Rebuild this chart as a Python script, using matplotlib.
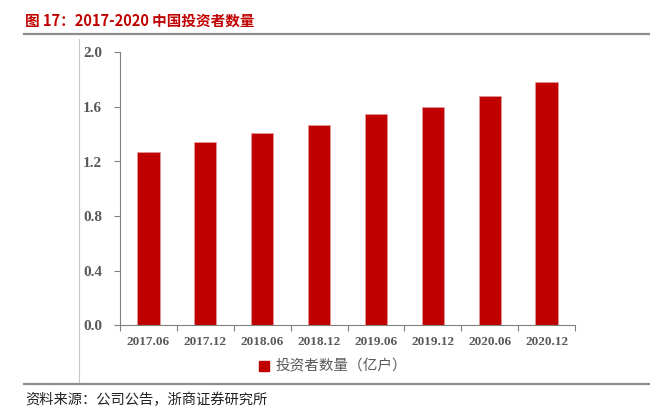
import matplotlib
matplotlib.use('Agg')
import matplotlib.pyplot as plt
from matplotlib.patches import Patch
from matplotlib.lines import Line2D
import numpy as np

plt.rcParams['font.family'] = ['Noto Sans CJK SC', 'DejaVu Sans']

# 数据
periods = ['2017.06', '2017.12', '2018.06', '2018.12',
           '2019.06', '2019.12', '2020.06', '2020.12']
investors = [1.27, 1.34, 1.41, 1.47, 1.55, 1.60, 1.68, 1.78]
y_ticks = [0.0, 0.4, 0.8, 1.2, 1.6, 2.0]

title = '图 17：2017-2020 中国投资者数量'
legend_label = '投资者数量（亿户）'
source = '资料来源：公司公告，浙商证券研究所'

red = '#C00000'
grey = '#595959'
W, H = 650, 411

fig = plt.figure(figsize=(6.5, 4.11), dpi=100)
ax = fig.add_axes([120 / W, 1 - 325.3 / H, 455 / W, 273 / H])

x = np.arange(len(periods))
ax.bar(x, investors, width=0.39, color=red, edgecolor='#E8A0A0', linewidth=0.4)

ax.set_xlim(-0.5, len(periods) - 0.5)
ax.set_ylim(0, 2.0)
ax.set_yticks(y_ticks)
ax.set_yticklabels(['%.1f' % v for v in y_ticks])

# 刻度在类别边界，标签在中间
ax.set_xticks(np.arange(-0.5, len(periods), 1.0))
ax.set_xticklabels([])
ax.set_xticks(x, minor=True)
ax.set_xticklabels(periods, minor=True)
ax.tick_params(axis='x', which='minor', length=0, pad=8)
ax.tick_params(axis='x', which='major', length=4, direction='out', color='#808080')
ax.tick_params(axis='y', length=4, direction='out', color='#808080', pad=9)

for lab in ax.get_xticklabels(minor=True):
    lab.set_family(['Liberation Serif', 'DejaVu Serif'])
    lab.set_fontweight('bold')
    lab.set_fontsize(9.5)
    lab.set_color(grey)
for lab in ax.get_yticklabels():
    lab.set_family(['Liberation Serif', 'DejaVu Serif'])
    lab.set_fontweight('bold')
    lab.set_fontsize(11)
    lab.set_color(grey)

for s in ['top', 'right']:
    ax.spines[s].set_visible(False)
for s in ['left', 'bottom']:
    ax.spines[s].set_color('#808080')
    ax.spines[s].set_linewidth(0.8)

# 图例
handle = Patch(facecolor=red, edgecolor=red)
fig.legend([handle], [legend_label], loc='center',
           bbox_to_anchor=(333 / W, 1 - 366.7 / H), frameon=False,
           handlelength=0.7, handleheight=0.7, handletextpad=0.4,
           prop={'size': 10.5}, labelcolor=grey)

# 标题与分隔线
fig.text(25 / W, 1 - 20.7 / H, title, color=red, fontsize=10.5,
         fontweight='bold', va='center', ha='left')
fig.add_artist(Line2D([24 / W, 1.0], [1 - 33.7 / H] * 2, color='#8C8C8C', lw=1.6))
fig.add_artist(Line2D([24 / W, 1.0], [1 - 384.3 / H] * 2, color='#8C8C8C', lw=1.6))
fig.add_artist(Line2D([78.7 / W] * 2, [1 - 39 / H, 1 - 381.7 / H], color='#C8C8C8', lw=0.8))

fig.text(25 / W, 1 - 400 / H, source, color='#222222', fontsize=10.3,
         va='center', ha='left')

fig.savefig('out.png', dpi=100)
